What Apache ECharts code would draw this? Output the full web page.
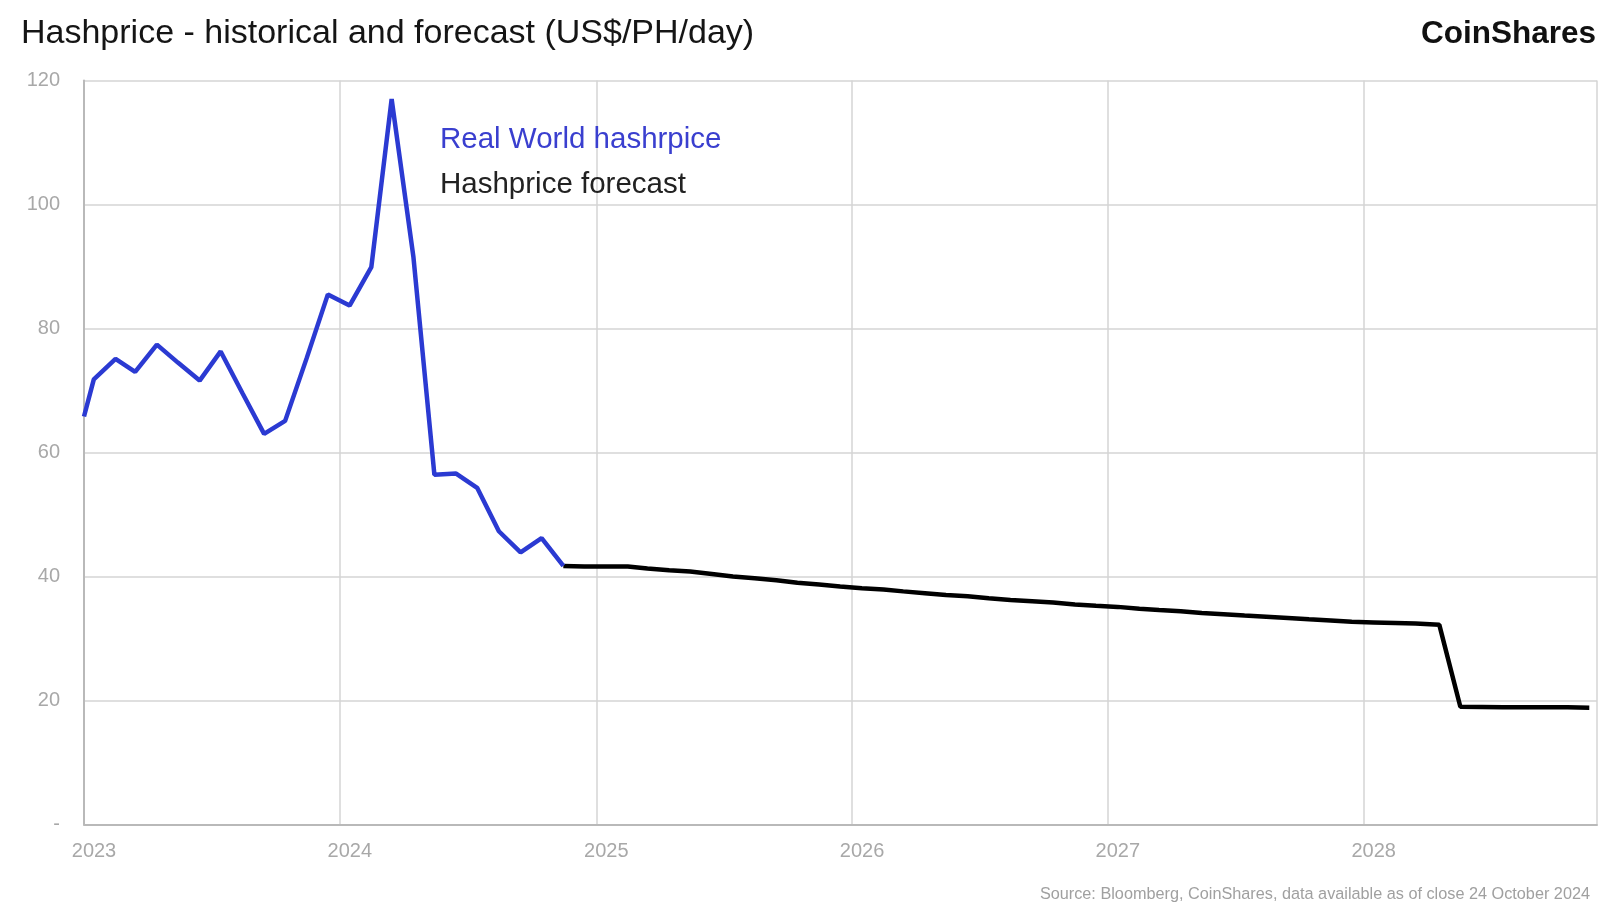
<!DOCTYPE html>
<html>
<head>
<meta charset="utf-8">
<script src="https://cdn.jsdelivr.net/npm/echarts@6/dist/echarts.min.js"></script>
<style>
html,body{margin:0;padding:0;background:#fff;}
#chart{width:1618px;height:902px;}
</style>
</head>
<body>
<div id="chart"></div>
<script>
// ---- data ----
const realDates = ['2023-01-01','2023-01-15','2023-02-15','2023-03-15','2023-04-15','2023-05-15','2023-06-15','2023-07-15','2023-08-15','2023-09-15','2023-10-15','2023-11-15','2023-12-15','2024-01-15','2024-02-15','2024-03-15','2024-04-15','2024-05-15','2024-06-15','2024-07-15','2024-08-15','2024-09-15','2024-10-15','2024-11-15'];
const realValues = [65.8,71.8,75.1,73.0,77.4,74.5,71.6,76.3,69.6,63.0,65.1,75.3,85.5,83.7,89.9,117.0,91.6,56.4,56.6,54.3,47.3,43.9,46.2,41.7];

const forecastDates = ['2024-11-15','2024-12-15','2025-01-15','2025-02-15','2025-03-15','2025-04-15','2025-05-15','2025-06-15','2025-07-15','2025-08-15','2025-09-15','2025-10-15','2025-11-15','2025-12-15','2026-01-15','2026-02-15','2026-03-15','2026-04-15','2026-05-15','2026-06-15','2026-07-15','2026-08-15','2026-09-15','2026-10-15','2026-11-15','2026-12-15','2027-01-15','2027-02-15','2027-03-15','2027-04-15','2027-05-15','2027-06-15','2027-07-15','2027-08-15','2027-09-15','2027-10-15','2027-11-15','2027-12-15','2028-01-15','2028-02-15','2028-03-15','2028-04-18','2028-05-18','2028-06-18','2028-07-18','2028-08-18','2028-09-18','2028-10-18','2028-11-18'];
const forecastValues = [41.7,41.6,41.6,41.6,41.3,41.0,40.8,40.4,40.0,39.7,39.4,39.0,38.7,38.4,38.1,37.9,37.6,37.3,37.0,36.8,36.5,36.2,36.0,35.8,35.5,35.3,35.1,34.8,34.6,34.4,34.1,33.9,33.7,33.5,33.3,33.1,32.9,32.7,32.6,32.5,32.4,32.2,19.0,18.95,18.9,18.9,18.9,18.9,18.85];

const seriesNames = ['Real World hashrpice','Hashprice forecast'];
const titleText = 'Hashprice - historical and forecast (US$/PH/day)';
const sourceText = 'Source: Bloomberg, CoinShares, data available as of close 24 October 2024';
const brandText = 'CoinShares';

const FONT = '"Liberation Sans", Arial, sans-serif';
const chart = echarts.init(document.getElementById('chart'));
chart.setOption({
  animation: false,
  backgroundColor: '#ffffff',
  textStyle: { fontFamily: FONT },
  title: [
    { text: titleText, left: 21, top: 14, padding: 0,
      textStyle: { fontFamily: FONT, fontSize: 34, fontWeight: 'normal', color: '#151515', lineHeight: 40 } },
    { text: brandText, right: 22, top: 15, padding: 0,
      textStyle: { fontFamily: FONT, fontSize: 31.5, fontWeight: 'bold', color: '#111', lineHeight: 38 } },
    { text: sourceText, right: 28, top: 885, padding: 0,
      textStyle: { fontFamily: FONT, fontSize: 16.25, fontWeight: 'normal', color: '#a0a0a0', lineHeight: 20 } }
  ],
  legend: {
    orient: 'vertical', left: 435, top: 122, padding: 0,
    itemWidth: 0, itemHeight: 10, itemGap: 9,
    icon: 'none', selectedMode: false,
    itemStyle: { opacity: 0 }, lineStyle: { opacity: 0 },
    textStyle: { fontFamily: FONT, fontSize: 29.5, lineHeight: 36 },
    data: [
      { name: seriesNames[0], textStyle: { color: '#3a3fcf' } },
      { name: seriesNames[1], textStyle: { color: '#222222' } }
    ]
  },
  grid: { left: 84, right: 21, top: 80.5, bottom: 77.5, containLabel: false },
  xAxis: {
    type: 'time',
    min: '2023-01-01', max: '2028-11-29',
    splitNumber: 6,
    axisLine: { show: true, lineStyle: { color: '#b9b9b9', width: 2 } },
    axisTick: { show: false },
    splitLine: { show: true, lineStyle: { color: '#d4d4d4', width: 1.5 } },
    axisLabel: { formatter: '{yyyy}', color: '#a8a8a8', fontSize: 20, margin: 17,
      padding: [0, 0, 0, 20], showMinLabel: true, showMaxLabel: false, hideOverlap: false }
  },
  yAxis: {
    type: 'value', min: 0, max: 120, interval: 20,
    axisLine: { show: true, lineStyle: { color: '#b9b9b9', width: 2 } },
    axisTick: { show: false },
    splitLine: { show: true, lineStyle: { color: '#d4d4d4', width: 1.5 } },
    axisLabel: { formatter: v => v === 0 ? '-' : String(v), color: '#a8a8a8', fontSize: 20, margin: 24 }
  },
  series: [
    { name: seriesNames[1], type: 'line', symbol: 'none', z: 3,
      data: forecastDates.map((d, i) => [d, forecastValues[i]]),
      lineStyle: { color: '#000000', width: 4.5 }, itemStyle: { color: '#000000' } },
    { name: seriesNames[0], type: 'line', symbol: 'none', z: 4,
      data: realDates.map((d, i) => [d, realValues[i]]),
      lineStyle: { color: '#2b3ad2', width: 4.5 }, itemStyle: { color: '#2b3ad2' } }
  ]
});
</script>
</body>
</html>
